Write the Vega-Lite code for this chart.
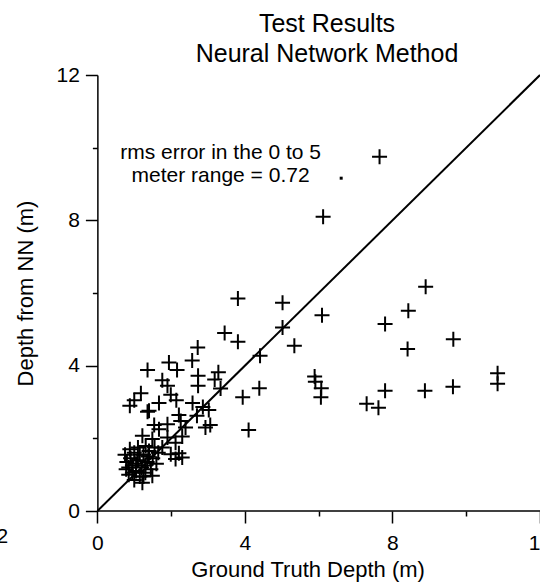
{
  "$schema": "https://vega.github.io/schema/vega-lite/v6.json",
  "width": 540,
  "height": 436,
  "autosize": {"type": "none"},
  "padding": {"top": 75, "left": 0, "right": 0, "bottom": 77},
  "background": "white",
  "config": {"view": {"stroke": null}, "font": "Liberation Sans"},
  "title": {
    "text": ["Test Results", "Neural Network Method"],
    "font": "Liberation Sans",
    "fontSize": 25,
    "fontWeight": "normal",
    "color": "black",
    "anchor": "middle",
    "dx": 57,
    "offset": -3,
    "lineHeight": 30
  },
  "datasets": {
    "pts": [
      {"x": 7.65, "y": 9.75}, {"x": 6.12, "y": 8.10}, {"x": 8.90, "y": 6.17}, {"x": 8.43, "y": 5.51},
      {"x": 7.80, "y": 5.15}, {"x": 9.65, "y": 4.73}, {"x": 8.41, "y": 4.46}, {"x": 7.80, "y": 3.31},
      {"x": 8.88, "y": 3.31}, {"x": 9.64, "y": 3.42}, {"x": 10.85, "y": 3.79}, {"x": 10.85, "y": 3.50},
      {"x": 3.81, "y": 5.85}, {"x": 5.02, "y": 5.73}, {"x": 6.09, "y": 5.39}, {"x": 3.45, "y": 4.90},
      {"x": 3.81, "y": 4.66}, {"x": 5.02, "y": 5.05}, {"x": 5.34, "y": 4.55}, {"x": 4.41, "y": 4.27},
      {"x": 4.39, "y": 3.38}, {"x": 3.94, "y": 3.13}, {"x": 5.89, "y": 3.70}, {"x": 5.91, "y": 3.56},
      {"x": 6.07, "y": 3.38}, {"x": 6.06, "y": 3.13}, {"x": 7.30, "y": 2.95}, {"x": 7.62, "y": 2.84},
      {"x": 4.10, "y": 2.23}, {"x": 3.28, "y": 3.82}, {"x": 3.18, "y": 3.62}, {"x": 3.34, "y": 3.37},
      {"x": 2.72, "y": 4.50}, {"x": 1.36, "y": 3.88}, {"x": 1.94, "y": 4.09}, {"x": 2.16, "y": 3.88},
      {"x": 2.57, "y": 4.14}, {"x": 1.76, "y": 3.60}, {"x": 1.90, "y": 3.45}, {"x": 2.73, "y": 3.72},
      {"x": 2.73, "y": 3.45}, {"x": 1.18, "y": 3.24}, {"x": 1.00, "y": 3.05}, {"x": 0.88, "y": 2.90},
      {"x": 1.99, "y": 3.20}, {"x": 1.67, "y": 2.97}, {"x": 2.14, "y": 3.05}, {"x": 2.58, "y": 2.97},
      {"x": 2.86, "y": 2.86}, {"x": 1.40, "y": 2.76}, {"x": 3.02, "y": 2.78}, {"x": 2.70, "y": 2.62},
      {"x": 2.26, "y": 2.48}, {"x": 1.90, "y": 2.39}, {"x": 2.39, "y": 2.30}, {"x": 2.93, "y": 2.30},
      {"x": 1.67, "y": 2.25}, {"x": 1.22, "y": 2.07}, {"x": 1.49, "y": 1.98}, {"x": 1.90, "y": 2.02},
      {"x": 2.12, "y": 1.88}, {"x": 1.76, "y": 1.75}, {"x": 1.99, "y": 1.56}, {"x": 2.30, "y": 1.47},
      {"x": 1.31, "y": 1.79}, {"x": 3.06, "y": 2.37}, {"x": 1.36, "y": 2.73}, {"x": 2.21, "y": 2.64},
      {"x": 1.54, "y": 2.37}, {"x": 2.30, "y": 2.05}, {"x": 2.21, "y": 1.59}, {"x": 2.12, "y": 1.43},
      {"x": 0.75, "y": 1.55}, {"x": 0.80, "y": 1.35}, {"x": 0.78, "y": 1.15}, {"x": 0.85, "y": 1.00},
      {"x": 0.90, "y": 1.45}, {"x": 0.95, "y": 1.25}, {"x": 1.00, "y": 1.60}, {"x": 1.05, "y": 1.10},
      {"x": 1.10, "y": 1.40}, {"x": 1.15, "y": 0.95}, {"x": 1.20, "y": 1.20}, {"x": 1.25, "y": 1.55},
      {"x": 1.30, "y": 1.05}, {"x": 1.35, "y": 1.35}, {"x": 1.40, "y": 1.65}, {"x": 1.45, "y": 1.15},
      {"x": 1.50, "y": 1.45}, {"x": 1.00, "y": 0.85}, {"x": 1.22, "y": 0.78}, {"x": 1.49, "y": 0.97},
      {"x": 0.88, "y": 1.70}, {"x": 1.10, "y": 1.75}, {"x": 1.60, "y": 1.30}, {"x": 1.65, "y": 1.60},
      {"x": 0.95, "y": 1.05}, {"x": 1.15, "y": 1.55}, {"x": 1.30, "y": 1.25}, {"x": 1.05, "y": 1.30},
      {"x": 1.25, "y": 0.95}, {"x": 0.85, "y": 1.20}, {"x": 1.55, "y": 1.75}, {"x": 1.38, "y": 1.50}
    ],
    "dot": [{"x": 6.61, "y": 9.16}],
    "diag": [{"x": 0, "y": 0}, {"x": 12, "y": 12}],
    "baseline": [{"x": 0, "x2": 12, "y": 0}],
    "note": [{"x": 3.34, "y": 9.85, "label": "rms error in the 0 to 5\nmeter range = 0.72"}]
  },
  "encoding": {
    "x": {
      "field": "x",
      "type": "quantitative",
      "scale": {"domain": [-2.64, 12], "nice": false, "zero": false},
      "axis": {
        "values": [-2, 0, 2, 4, 6, 8, 10, 12],
        "labelExpr": "datum.value === -2 ? '-2' : (datum.value % 4 === 0 ? datum.label : '')",
        "labelAlign": {"condition": {"test": "datum.value === -2", "value": "right"}, "value": "center"},
        "labelOffset": {"condition": {"test": "datum.value === -2", "value": -16}, "value": 0},
        "domain": false,
        "grid": false,
        "tickColor": "black",
        "tickWidth": 1.5,
        "tickSize": {"condition": {"test": "datum.value % 4 === 0", "value": 12}, "value": 5},
        "tickOpacity": {"condition": {"test": "datum.value < 0", "value": 0}, "value": 1},
        "labelColor": "black",
        "labelFont": "Liberation Sans",
        "labelFontSize": 21,
        "labelPadding": 9,
        "labelFlush": false,
        "labelOverlap": false,
        "title": "Ground Truth Depth (m)",
        "titleFont": "Liberation Sans",
        "titleFontSize": 22,
        "titleFontWeight": "normal",
        "titleColor": "black",
        "titleX": {"expr": "scale('x', 5.7)"},
        "titlePadding": 6
      }
    },
    "y": {
      "field": "y",
      "type": "quantitative",
      "scale": {"domain": [0, 12], "nice": false, "zero": false},
      "axis": {
        "values": [0, 2, 4, 6, 8, 10, 12],
        "labelExpr": "datum.value % 4 === 0 ? datum.label : ''",
        "offset": {"expr": "-scale('x', 0)"},
        "grid": false,
        "domainColor": "black",
        "domainWidth": 1.5,
        "tickColor": "black",
        "tickWidth": 1.5,
        "tickSize": {"condition": {"test": "datum.value % 4 === 0", "value": 12}, "value": 5},
        "labelColor": "black",
        "labelFont": "Liberation Sans",
        "labelFontSize": 21,
        "labelPadding": 6,
        "labelOverlap": false,
        "labelFlush": false,
        "title": "Depth from NN (m)",
        "titleFont": "Liberation Sans",
        "titleFontSize": 22,
        "titleFontWeight": "normal",
        "titleColor": "black",
        "titlePadding": 19
      }
    }
  },
  "layer": [
    {
      "data": {"name": "baseline"},
      "mark": {"type": "rule", "color": "black", "strokeWidth": 1.5},
      "encoding": {"x2": {"field": "x2"}}
    },
    {
      "data": {"name": "diag"},
      "mark": {"type": "line", "color": "black", "strokeWidth": 2},
      "encoding": {}
    },
    {
      "data": {"name": "pts"},
      "mark": {
        "type": "point",
        "shape": "M-1,0L1,0M0,-1L0,1",
        "filled": false,
        "stroke": "black",
        "strokeWidth": 2,
        "size": 225,
        "opacity": 1
      },
      "encoding": {}
    },
    {
      "data": {"name": "dot"},
      "mark": {"type": "square", "color": "black", "size": 9, "opacity": 1},
      "encoding": {}
    },
    {
      "data": {"name": "note"},
      "mark": {
        "type": "text",
        "lineBreak": "\n",
        "align": "center",
        "baseline": "middle",
        "font": "Liberation Sans",
        "fontSize": 21,
        "lineHeight": 23,
        "color": "black"
      },
      "encoding": {"text": {"field": "label"}}
    }
  ]
}
